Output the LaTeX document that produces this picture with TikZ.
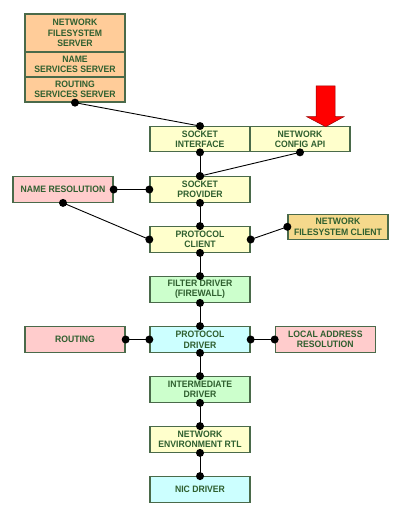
\documentclass[tikz,border=0pt]{standalone}
\usepackage{fontspec}
\setmainfont{Liberation Sans}
\newfontfamily\boxfont[FakeStretch=0.93]{Liberation Sans}
\definecolor{txt}{HTML}{2F5F2F}
\definecolor{edge}{HTML}{4A6A4A}
\definecolor{orangefill}{HTML}{FFCC99}
\definecolor{yellowfill}{HTML}{FFFFCC}
\definecolor{pinkfill}{HTML}{FFCCCC}
\definecolor{greenfill}{HTML}{CCFFCC}
\definecolor{cyanfill}{HTML}{CCFFFF}
\definecolor{goldfill}{HTML}{F5D98C}
\begin{document}
\begin{tikzpicture}[x=1pt,y=-1pt,
  box/.style={draw=edge, line width=1.3pt, minimum width=100pt, minimum height=25.5pt,
    inner sep=0pt, align=center, text=txt,
    font=\boxfont\fontsize{9.3}{10.5}\selectfont\bfseries},
  conn/.style={line width=0.9pt, black},
  dot/.style={fill=black}
]
\useasboundingbox (0,0) rectangle (407,516);
% top stack
\node[box, fill=orangefill, minimum height=38pt] (nfs) at (75,33) {NETWORK\\FILESYSTEM\\SERVER};
\node[box, fill=orangefill, minimum height=25pt] (nss) at (75,64.5) {NAME\\SERVICES SERVER};
\node[box, fill=orangefill, minimum height=25pt] (rss) at (75,89.5) {ROUTING\\SERVICES SERVER};
% socket layer
\node[box, fill=yellowfill, minimum height=25pt] (si) at (200,139.2) {SOCKET\\INTERFACE};
\node[box, fill=yellowfill, minimum height=25pt] (nca) at (300,139.2) {NETWORK\\CONFIG API};
\node[box, fill=yellowfill] (sp) at (200,189.5) {SOCKET\\PROVIDER};
\node[box, fill=pinkfill] (nr) at (63,189.5) {NAME RESOLUTION};
\node[box, fill=yellowfill] (pc) at (200,239.5) {PROTOCOL\\CLIENT};
\node[box, fill=goldfill, minimum height=25pt] (nfc) at (338,226.8) {NETWORK\\FILESYSTEM CLIENT};
\node[box, fill=greenfill] (fd) at (200,289.5) {FILTER DRIVER\\(FIREWALL)};
\node[box, fill=cyanfill] (pd) at (200,339.5) {PROTOCOL\\DRIVER};
\node[box, fill=pinkfill] (rt) at (75,339.5) {ROUTING};
\node[box, fill=pinkfill] (lar) at (325.3,339.5) {LOCAL ADDRESS\\RESOLUTION};
\node[box, fill=greenfill] (id) at (200,389.5) {INTERMEDIATE\\DRIVER};
\node[box, fill=yellowfill] (ner) at (200,439.5) {NETWORK\\ENVIRONMENT RTL};
\node[box, fill=cyanfill] (nic) at (200,489.5) {NIC DRIVER};
% red arrow
\filldraw[fill=red, draw=red!60!black, line width=0.5pt]
  (316,86) -- (335,86) -- (335,116.7) -- (344,116.7) -- (325.7,126.7)
  -- (306.7,116.7) -- (316,116.7) -- cycle;
% connectors
\foreach \a/\b in {rss.south/si.north, si.south/sp.north, nca.south/sp.north,
  nr.east/sp.west, nr.south/pc.west, sp.south/pc.north, pc.east/nfc.west,
  pc.south/fd.north, fd.south/pd.north, rt.east/pd.west, pd.east/lar.west,
  pd.south/id.north, id.south/ner.north, ner.south/nic.north}
{
  \draw[conn] (\a) -- (\b);
  \fill[dot] (\a) circle (4);
  \fill[dot] (\b) circle (4);
}
\end{tikzpicture}
\end{document}
